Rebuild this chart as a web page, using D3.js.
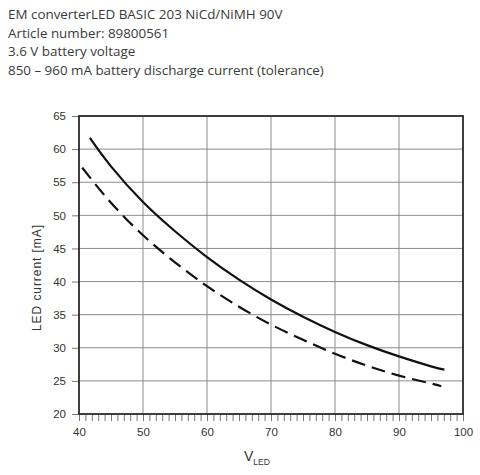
<!DOCTYPE html>
<html>
<head>
<meta charset="utf-8">
<script src="https://cdn.jsdelivr.net/npm/d3@7"></script>
<style>
    body { margin: 0; background: #fff; }
    svg { display: block; }
    .title { font-family: "Open Sans", Lato, sans-serif; font-size: 13.4px; fill: #3a3a3a; }
    .tick text { font-family: "Liberation Sans", Arial, sans-serif; font-size: 11.5px; fill: #333; }
    .axis-label { font-family: "Liberation Sans", Arial, sans-serif; fill: #333; }
</style>
</head>
<body>
<svg id="chart"></svg>
<script>
// header lines
var titleLines = [
    'EM converterLED BASIC 203 NiCd/NiMH 90V',
    'Article number: 89800561',
    '3.6 V battery voltage',
    '850 – 960 mA battery discharge current (tolerance)'
];

// LED voltage [V]
var voltage = [41.7, 45, 50, 55, 60, 65, 70, 75, 80, 85, 90, 95, 97.1];
// upper curve (solid), LED current [mA]
var currentMax = [61.7, 57.4, 52.0, 47.6, 43.7, 40.3, 37.3, 34.7, 32.4, 30.4, 28.7, 27.2, 26.7];

var voltageMin = [40.5, 45, 50, 55, 60, 65, 70, 75, 80, 85, 90, 95, 96.6];
// lower curve (dashed)
var currentMin = [57.2, 51.9, 47.0, 42.9, 39.3, 36.2, 33.5, 31.2, 29.1, 27.3, 25.8, 24.6, 24.2];

var xTicks = [40, 50, 60, 70, 80, 90, 100];
var yTicks = [20, 25, 30, 35, 40, 45, 50, 55, 60, 65];

var width = 480,
    height = 475;

var svg = d3.select('#chart')
    .attr('width', width)
    .attr('height', height);

svg.selectAll('.title')
    .data(titleLines)
    .enter()
    .append('text')
    .attr('class', 'title')
    .attr('x', 8)
    .attr('y', function(d, i) {
        return 19 + i * 18.7;
    })
    .text(function(d) {
        return d;
    });

var x = d3.scaleLinear().domain([40, 100]).range([79, 463]);
var y = d3.scaleLinear().domain([20, 65]).range([414, 116]);

// grid
svg.append('g')
    .selectAll('line')
    .data(xTicks.slice(1, -1))
    .enter()
    .append('line')
    .attr('x1', x).attr('x2', x)
    .attr('y1', y(65)).attr('y2', y(20))
    .attr('stroke', '#8c8c8c')
    .attr('stroke-width', 1);

svg.append('g')
    .selectAll('line')
    .data(yTicks.slice(1, -1))
    .enter()
    .append('line')
    .attr('x1', x(40)).attr('x2', x(100))
    .attr('y1', y).attr('y2', y)
    .attr('stroke', '#8c8c8c')
    .attr('stroke-width', 1);

// minor ticks under the x axis
svg.append('g')
    .attr('transform', 'translate(0,' + y(20) + ')')
    .call(d3.axisBottom(x).ticks(60).tickSize(7).tickFormat(''))
    .call(function(g) { g.select('.domain').remove(); })
    .selectAll('line')
    .attr('stroke', '#777');

var xAxis = svg.append('g')
    .attr('transform', 'translate(0,' + y(20) + ')')
    .call(d3.axisBottom(x).tickValues(xTicks).tickSize(0).tickPadding(14));
xAxis.select('.domain').remove();

var yAxis = svg.append('g')
    .attr('transform', 'translate(' + x(40) + ',0)')
    .call(d3.axisLeft(y).tickValues(yTicks).tickSize(7).tickPadding(6));
yAxis.select('.domain').remove();
yAxis.selectAll('line').attr('stroke', '#777');

// frame
svg.append('rect')
    .attr('x', x(40))
    .attr('y', y(65))
    .attr('width', x(100) - x(40))
    .attr('height', y(20) - y(65))
    .attr('fill', 'none')
    .attr('stroke', '#2a2a2a')
    .attr('stroke-width', 1.8);

var line = d3.line()
    .x(function(d) { return x(d[0]); })
    .y(function(d) { return y(d[1]); })
    .curve(d3.curveNatural);

svg.append('path')
    .datum(d3.zip(voltage, currentMax))
    .attr('d', line)
    .attr('fill', 'none')
    .attr('stroke', '#111')
    .attr('stroke-width', 2.2);

svg.append('path')
    .datum(d3.zip(voltageMin, currentMin))
    .attr('d', line)
    .attr('fill', 'none')
    .attr('stroke', '#111')
    .attr('stroke-width', 2.2)
    .attr('stroke-dasharray', '14,7');

// axis labels
var xl = svg.append('text')
    .attr('class', 'axis-label')
    .attr('x', 244)
    .attr('y', 461);
xl.append('tspan').style('font-size', '14px').text('V');
xl.append('tspan').style('font-size', '8.5px').attr('dy', 4).text('LED');

svg.append('text')
    .attr('class', 'axis-label')
    .attr('transform', 'translate(40.5,278) rotate(-90)')
    .attr('text-anchor', 'middle')
    .style('font-size', '12px')
    .attr('textLength', 106)
    .attr('lengthAdjust', 'spacing')
    .text('LED current [mA]');
</script>
</body>
</html>
